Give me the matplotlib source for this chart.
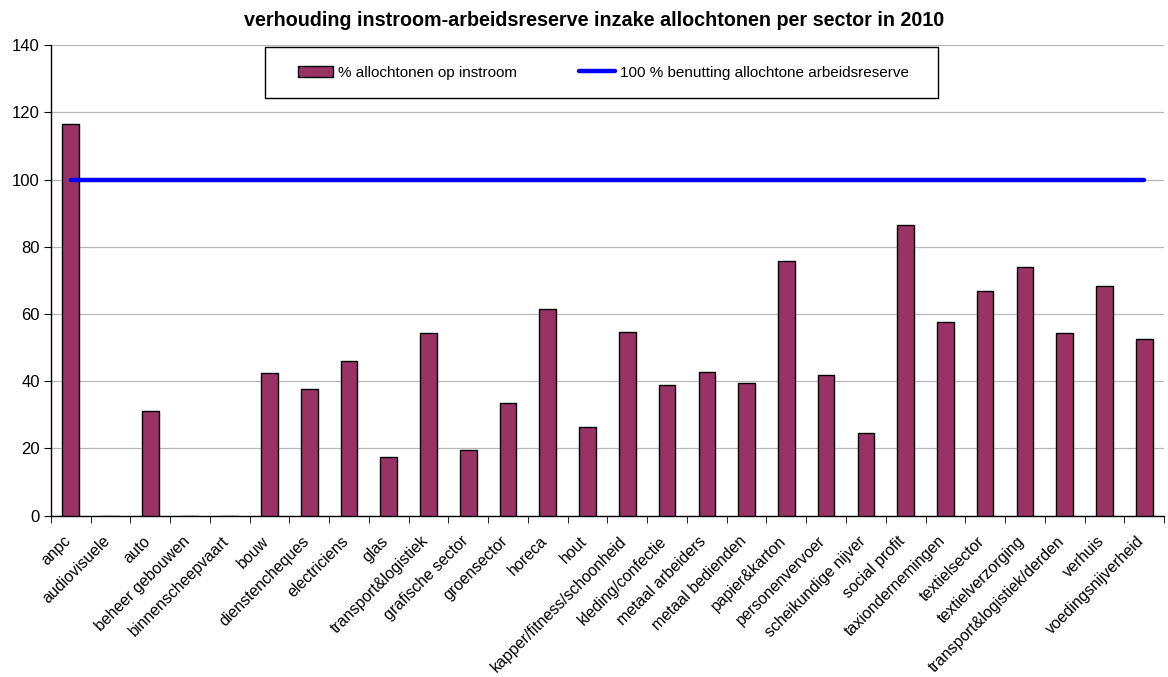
import matplotlib
matplotlib.use("Agg")
import matplotlib.pyplot as plt
import matplotlib.transforms as mtransforms
from matplotlib.patches import Rectangle
import numpy as np

plt.rcParams['font.family'] = ['Liberation Sans', 'DejaVu Sans']

sectors = [
    "anpc", "audiovisuele", "auto", "beheer gebouwen", "binnenscheepvaart",
    "bouw", "dienstencheques", "electriciens", "glas", "transport&logistiek",
    "grafische sector", "groensector", "horeca", "hout",
    "kapper/fitness/schoonheid", "kleding/confectie", "metaal arbeiders",
    "metaal bedienden", "papier&karton", "personenvervoer",
    "scheikundige nijver", "social profit", "taxiondernemingen",
    "textielsector", "textielverzorging", "transport&logistiek/derden",
    "verhuis", "voedingsnijverheid",
]
pct_allochtonen = [
    116.7, 0, 31.3, 0, 0,
    42.4, 37.8, 45.9, 17.6, 54.3,
    19.6, 33.6, 61.5, 26.5,
    54.8, 38.8, 42.7,
    39.5, 75.8, 42.0,
    24.7, 86.4, 57.6,
    66.9, 74.0, 54.3,
    68.3, 52.7,
]
reference_level = [100] * len(sectors)

title = "verhouding instroom-arbeidsreserve inzake allochtonen per sector in 2010"
bar_label = "% allochtonen op instroom"
line_label = "100 % benutting allochtone arbeidsreserve"
y_ticks = [0, 20, 40, 60, 80, 100, 120, 140]

fig = plt.figure(figsize=(11.68, 6.77), dpi=100)
ax = fig.add_axes([0.0436, 0.2383, 0.9530, 0.6948])

x = np.arange(len(sectors))
bars = ax.bar(x, pct_allochtonen, width=0.42, color="#993366",
              edgecolor="black", linewidth=1.0, label=bar_label, zorder=3)
line, = ax.plot(x, reference_level, color="#0000ff", linewidth=3.2,
                solid_capstyle="round", label=line_label, zorder=4)

ax.set_xlim(-0.5, len(sectors) - 0.5)
ax.set_ylim(0, 140)
ax.set_yticks(y_ticks)
ax.set_yticklabels([str(v) for v in y_ticks], fontsize=12)
ax.yaxis.grid(True, color="#b8b8b8", linewidth=0.9, zorder=0)
ax.set_axisbelow(True)

# category labels centred on bars, tick marks on category boundaries
ax.set_xticks(x)
ax.set_xticklabels(sectors, rotation=45, ha="right", va="center",
                   rotation_mode="anchor", fontsize=11.4)
ax.tick_params(axis="x", which="major", length=0, pad=16.5)
shift = mtransforms.ScaledTranslation(-2 / 72, 0, fig.dpi_scale_trans)
for lbl in ax.get_xticklabels():
    lbl.set_transform(lbl.get_transform() + shift)
ax.set_xticks(np.arange(-0.5, len(sectors), 1.0), minor=True)
ax.tick_params(axis="x", which="minor", length=5, direction="out", color="black")
ax.tick_params(axis="y", length=5, direction="out", color="black", pad=3)

for side in ("top", "right"):
    ax.spines[side].set_visible(False)
for side in ("left", "bottom"):
    ax.spines[side].set_color("black")
    ax.spines[side].set_linewidth(1.0)

fig.text(0.509, 0.970, title, ha="center", va="center",
         fontsize=14.2, fontweight="bold")

# legend box with the two entries spread across it
ax.add_patch(Rectangle((0.1926, 0.887), 0.6045, 0.109, transform=ax.transAxes,
                       fill=False, edgecolor="black", linewidth=1.0,
                       zorder=6, clip_on=False))
ax.add_patch(Rectangle((0.1926, 0.887), 0.6045, 0.109, transform=ax.transAxes,
                       facecolor="white", edgecolor="none", zorder=5,
                       clip_on=False))
leg = ax.legend(handles=[bars, line], labels=[bar_label, line_label],
                ncol=2, loc="center", mode="expand",
                bbox_to_anchor=(0.2216, 0.9415, 0.549, 0.0),
                fontsize=11, frameon=False, borderaxespad=0, borderpad=0,
                handlelength=2.35, handleheight=0.7, handletextpad=0.3,
                columnspacing=2.0)
leg.set_zorder(7)

fig.savefig("out.png", dpi=100, facecolor="white")
